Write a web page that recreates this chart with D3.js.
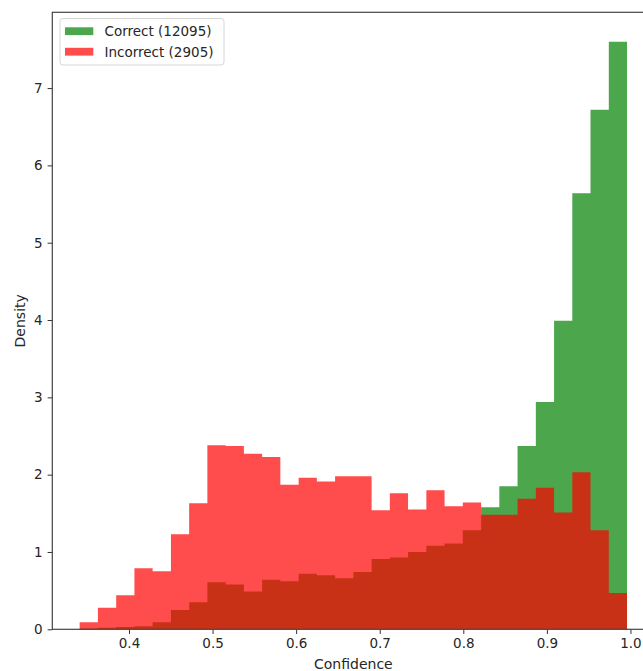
<!DOCTYPE html>
<html lang="en">
<head>
    <meta charset="UTF-8">
    <title>Confidence histogram</title>
    <script src="https://d3js.org/d3.v7.min.js"></script>
    <style>
        html, body {
            margin: 0;
            padding: 0;
            background: #fff;
        }
        svg {
            display: block;
            font-family: "DejaVu Sans", sans-serif;
        }
    </style>
</head>
<body>
    <svg id="chart"></svg>

    <script>
        // bin edges (confidence), shared by both histograms
        const binEdges = [0.341, 0.3628, 0.3847, 0.4065, 0.4283, 0.4502, 0.4720, 0.4938,
            0.5156, 0.5375, 0.5593, 0.5811, 0.6030, 0.6248, 0.6466, 0.6685, 0.6903,
            0.7121, 0.7339, 0.7558, 0.7776, 0.7994, 0.8213, 0.8431, 0.8649, 0.8868,
            0.9086, 0.9304, 0.9522, 0.9741, 0.9959];

        // densities
        const correctDensity = [0.01, 0.02, 0.03, 0.04, 0.09, 0.25, 0.35, 0.61, 0.58, 0.49,
            0.64, 0.62, 0.72, 0.70, 0.66, 0.74, 0.91, 0.93, 1.00, 1.08,
            1.11, 1.28, 1.58, 1.85, 2.37, 2.94, 3.99, 5.64, 6.72, 7.60];
        const incorrectDensity = [0.09, 0.28, 0.44, 0.79, 0.75, 1.23, 1.63, 2.38, 2.37, 2.27,
            2.23, 1.87, 1.96, 1.91, 1.98, 1.98, 1.54, 1.76, 1.55, 1.80,
            1.59, 1.64, 1.48, 1.48, 1.69, 1.83, 1.51, 2.03, 1.28, 0.47];

        const seriesNames = ["Correct (12095)", "Incorrect (2905)"];
        const seriesColors = ["green", "red"];
        const xTicks = [0.4, 0.5, 0.6, 0.7, 0.8, 0.9, 1.0];
        const yTicks = [0, 1, 2, 3, 4, 5, 6, 7];

        const width = 643, height = 671;
        const margin = { top: 12.3, right: -11.4, bottom: 41.7, left: 52.3 };

        const svg = d3.select("#chart")
            .attr("width", width)
            .attr("height", height);

        // matplotlib-like 5% padding around data
        const span = binEdges[binEdges.length - 1] - binEdges[0];
        const x = d3.scaleLinear()
            .domain([binEdges[0] - 0.05 * span, binEdges[binEdges.length - 1] + 0.05 * span])
            .range([margin.left, width - margin.right]);

        const yMax = d3.max(correctDensity.concat(incorrectDensity)) * 1.05;
        const y = d3.scaleLinear()
            .domain([0, yMax])
            .range([height - margin.bottom, margin.top]);

        // each histogram as one stepped area, so the alpha has no seams
        const area = d3.area()
            .curve(d3.curveStepAfter)
            .x(d => x(d.edge))
            .y0(y(0))
            .y1(d => y(d.value));

        [correctDensity, incorrectDensity].forEach((vals, s) => {
            const pts = binEdges.map((edge, i) => ({ edge, value: vals[Math.min(i, vals.length - 1)] }));
            svg.append("path")
                .datum(pts)
                .attr("d", area)
                .attr("fill", seriesColors[s])
                .attr("fill-opacity", 0.7);
        });

        // axes
        const xAxis = svg.append("g")
            .attr("transform", `translate(0,${y(0)})`)
            .call(d3.axisBottom(x).tickValues(xTicks).tickFormat(d3.format(".1f"))
                .tickSize(4.7).tickPadding(4.5).tickSizeOuter(0));

        const yAxis = svg.append("g")
            .attr("transform", `translate(${margin.left},0)`)
            .call(d3.axisLeft(y).tickValues(yTicks).tickFormat(d3.format("d"))
                .tickSize(4.7).tickPadding(5).tickSizeOuter(0));

        [xAxis, yAxis].forEach(a => {
            a.select(".domain").remove();
            a.selectAll(".tick line").attr("stroke", "#333").attr("stroke-width", 1);
            a.selectAll(".tick text")
                .attr("fill", "#262626")
                .style("font-size", "13.5px")
                .style("font-family", "DejaVu Sans, sans-serif");
        });

        // spines
        svg.append("rect")
            .attr("x", margin.left)
            .attr("y", margin.top)
            .attr("width", width - margin.right - margin.left)
            .attr("height", y(0) - margin.top)
            .attr("fill", "none")
            .attr("stroke", "#444")
            .attr("stroke-width", 1.2);

        // axis labels
        svg.append("text")
            .attr("x", (margin.left + width - margin.right) / 2)
            .attr("y", 669)
            .attr("text-anchor", "middle")
            .attr("fill", "#262626")
            .style("font-size", "14px")
            .text("Confidence");

        svg.append("text")
            .attr("transform", `translate(25,${(margin.top + y(0)) / 2}) rotate(-90)`)
            .attr("text-anchor", "middle")
            .attr("fill", "#262626")
            .style("font-size", "14px")
            .text("Density");

        // legend
        const legend = svg.append("g");
        legend.append("rect")
            .attr("x", 60)
            .attr("y", 18.5)
            .attr("width", 164)
            .attr("height", 46.5)
            .attr("rx", 3)
            .attr("fill", "#fff")
            .attr("fill-opacity", 0.8)
            .attr("stroke", "#d6d6d6")
            .attr("stroke-width", 1);

        seriesNames.forEach((name, i) => {
            const row = legend.append("g")
                .attr("transform", `translate(65,${27.3 + i * 20.5})`);
            row.append("rect")
                .attr("width", 28.3)
                .attr("height", 7.8)
                .attr("fill", seriesColors[i])
                .attr("fill-opacity", 0.7);
            row.append("text")
                .attr("x", 39.5)
                .attr("y", 8.7)
                .attr("fill", "#262626")
                .style("font-size", "13.5px")
                .text(name);
        });
    </script>
</body>
</html>
